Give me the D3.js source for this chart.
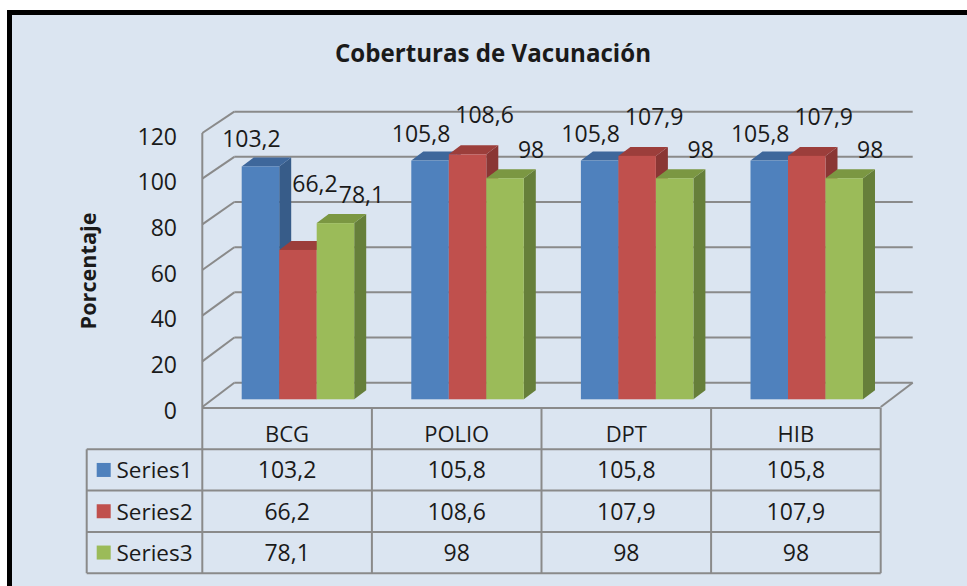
<!DOCTYPE html>
<html lang="es">
<head>
  <meta charset="UTF-8">
  <script src="https://d3js.org/d3.v7.min.js" charset="utf-8"></script>
  <title>Coberturas de Vacunación</title>
  <style>
    body { margin: 0; background: #fff; }
    text { font-family: "Open Sans", sans-serif; fill: #1a1a1a; }
  </style>
</head>
<body>
  <div class="chart"></div>
  <script>
    const categories = ['BCG', 'POLIO', 'DPT', 'HIB'];
    const seriesNames = ['Series1', 'Series2', 'Series3'];
    const series1 = [103.2, 105.8, 105.8, 105.8];
    const series2 = [66.2, 108.6, 107.9, 107.9];
    const series3 = [78.1, 98, 98, 98];
    const yTicks = [0, 20, 40, 60, 80, 100, 120];

    const allSeries = [series1, series2, series3];
    const colors = [
      { front: '#4f81bd', top: '#3e679b', side: '#375c89' },
      { front: '#c0504d', top: '#9c3e3b', side: '#8a3634' },
      { front: '#9bbb59', top: '#7b9742', side: '#667f3a' }
    ];
    const fmt = v => String(v).replace('.', ',');

    const W = 967, H = 586;
    const svg = d3.select('.chart').append('svg').attr('width', W).attr('height', H);

    // chart area with the thick black frame (right/bottom edges run off the picture)
    svg.append('rect').attr('x', 9.5).attr('y', 12.5).attr('width', 1000).attr('height', 1000)
      .attr('fill', '#dbe5f1').attr('stroke', '#000').attr('stroke-width', 5);

    // 3D geometry
    const wallDx = 32, wallDy = -24.3;
    const barDx = 12, barDy = -9;
    const x = d3.scaleBand().domain(categories).range([202.3, 880.7]);
    const yFront = d3.scaleLinear().domain([0, 120]).range([407, 133]);
    const yBack = d3.scaleLinear().domain([0, 120]).range([382.7, 111.7]);
    const yBar = d3.scaleLinear().domain([0, 120]).range([399.3, 399.3 - 120 * 2.256]);
    const barW = 37.5, barOffset = 39.4;
    const leftX = x.range()[0], rightX = x.range()[1];

    const grid = svg.append('g').attr('stroke', '#8a8a8a').attr('stroke-width', 2).attr('fill', 'none');
    // back wall gridlines
    grid.selectAll('.hgrid').data(yTicks).join('line')
      .attr('x1', leftX + wallDx).attr('x2', rightX + wallDx)
      .attr('y1', d => yBack(d)).attr('y2', d => yBack(d));
    // side wall gridlines
    grid.selectAll('.sgrid').data(yTicks).join('line')
      .attr('x1', leftX).attr('x2', leftX + wallDx)
      .attr('y1', d => yFront(d)).attr('y2', d => yBack(d));
    // front edge of side wall
    grid.append('line').attr('x1', leftX).attr('x2', leftX)
      .attr('y1', yFront(120)).attr('y2', yFront(0));
    // floor right edge
    grid.append('line').attr('x1', rightX + wallDx).attr('y1', yBack(0))
      .attr('x2', rightX).attr('y2', yFront(0));

    // y tick labels
    svg.append('g').selectAll('text').data(yTicks).join('text')
      .attr('x', 177).attr('y', d => yFront(d) + 3.5).attr('dy', '0.35em')
      .attr('text-anchor', 'end').style('font-size', '23px').text(d => d);

    // bars
    const bars = [];
    categories.forEach((c, ci) => {
      allSeries.forEach((s, si) => {
        bars.push({ cat: c, ci: ci, si: si, value: s[ci], x0: x(c) + barOffset + si * barW });
      });
    });

    const barG = svg.append('g');
    bars.forEach(b => {
      const x0 = b.x0, x1 = b.x0 + barW, yt = yBar(b.value), yb = yBar(0);
      const col = colors[b.si];
      const g = barG.append('g');
      g.append('path').attr('fill', col.side)
        .attr('d', `M${x1},${yt}L${x1 + barDx},${yt + barDy}L${x1 + barDx},${yb + barDy}L${x1},${yb}Z`);
      g.append('path').attr('fill', col.top)
        .attr('d', `M${x0},${yt}L${x0 + barDx},${yt + barDy}L${x1 + barDx},${yt + barDy}L${x1},${yt}Z`);
      g.append('rect').attr('fill', col.front)
        .attr('x', x0).attr('y', yt).attr('width', barW).attr('height', yb - yt);
    });

    // data labels: lifted above any taller bar of the same group they would cover
    const labelDx = [-9, 17, 26];
    const labelDy = [-19, -31, -20];
    const labelG = svg.append('g');
    bars.forEach(b => {
      const cx = b.x0 + barW / 2 + labelDx[b.si];
      const t = labelG.append('text').attr('text-anchor', 'middle')
        .style('font-size', '23px').text(fmt(b.value)).attr('x', cx);
      const w = t.node().getComputedTextLength();
      const l = cx - w / 2 + 4, r = cx + w / 2 - 4;
      let top = b.value;
      bars.filter(o => o.ci === b.ci).forEach(o => {
        if (o.x0 < r && o.x0 + barW + barDx > l) top = Math.max(top, o.value);
      });
      t.attr('y', yBar(top) + labelDy[b.si]);
    });

    // data table
    const tableTop = 408, rowH = 41.3, legendLeft = 86.7;
    const rowY = i => tableTop + rowH * i;
    const tg = svg.append('g').attr('stroke', '#8a8a8a').attr('stroke-width', 2).attr('fill', 'none');
    tg.append('line').attr('x1', leftX).attr('x2', rightX).attr('y1', rowY(0)).attr('y2', rowY(0));
    d3.range(1, 5).forEach(i => {
      tg.append('line').attr('x1', legendLeft).attr('x2', rightX).attr('y1', rowY(i)).attr('y2', rowY(i));
    });
    tg.append('line').attr('x1', legendLeft).attr('x2', legendLeft).attr('y1', rowY(1)).attr('y2', rowY(4));
    tg.append('line').attr('x1', leftX).attr('x2', leftX).attr('y1', yFront(0)).attr('y2', rowY(4));
    categories.forEach(c => {
      tg.append('line').attr('x1', x(c) + x.bandwidth()).attr('x2', x(c) + x.bandwidth())
        .attr('y1', rowY(0)).attr('y2', rowY(4));
    });

    svg.append('g').selectAll('text').data(categories).join('text')
      .attr('x', d => x(d) + x.bandwidth() / 2).attr('y', rowY(0) + 33.5)
      .attr('text-anchor', 'middle').style('font-size', '22px').text(d => d);

    allSeries.forEach((s, si) => {
      const cy = rowY(si + 1) + rowH / 2;
      svg.append('rect').attr('x', 96.7).attr('y', cy - 7).attr('width', 14).attr('height', 14)
        .attr('fill', colors[si].front);
      svg.append('text').attr('x', 116.5).attr('y', cy + 8.3)
        .style('font-size', '22.5px').text(seriesNames[si]);
      svg.append('g').selectAll('text').data(s).join('text')
        .attr('x', (d, i) => x(categories[i]) + x.bandwidth() / 2).attr('y', cy + 8.3)
        .attr('text-anchor', 'middle').style('font-size', '23px').text(d => fmt(d));
    });

    // titles
    const title = svg.append('text').attr('x', 493).attr('y', 62).attr('text-anchor', 'middle')
      .style('font-size', '22px').style('font-weight', 'bold').text('Coberturas de Vacunación');
    title.style('font-size', (22 * 316 / title.node().getComputedTextLength()) + 'px');

    const yTitle = svg.append('text').attr('transform', 'translate(96,271) rotate(-90)')
      .attr('text-anchor', 'middle').style('font-size', '19px').style('font-weight', 'bold').text('Porcentaje');
    yTitle.style('font-size', (19 * 117 / yTitle.node().getComputedTextLength()) + 'px');
  </script>
</body>
</html>
